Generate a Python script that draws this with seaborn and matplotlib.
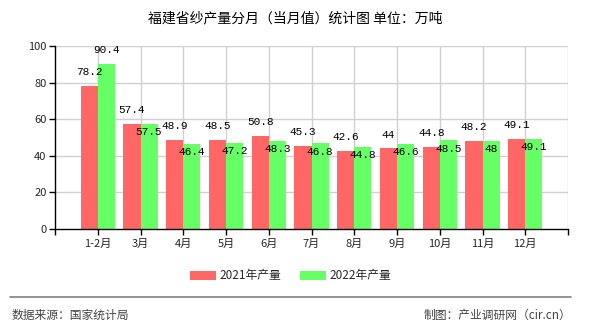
import matplotlib
matplotlib.use("Agg")
import matplotlib.pyplot as plt
import seaborn as sns
import pandas as pd
from matplotlib.patches import Patch

months = ["1-2月", "3月", "4月", "5月", "6月", "7月", "8月", "9月", "10月", "11月", "12月"]
v2021 = [78.2, 57.4, 48.9, 48.5, 50.8, 45.3, 42.6, 44, 44.8, 48.2, 49.1]
v2022 = [90.4, 57.5, 46.4, 47.2, 48.3, 46.8, 44.8, 46.6, 48.5, 48, 49.1]
series = ["2021年产量", "2022年产量"]
colors = ["#FF6666", "#66FF66"]
title = "福建省纱产量分月（当月值）统计图 单位：万吨"
source = "数据来源：国家统计局"
credit = "制图：产业调研网（cir.cn）"

sns.set_style("white")
plt.rcParams["font.family"] = ["Noto Sans CJK SC", "DejaVu Sans"]

df = pd.DataFrame({
    "month": months * 2,
    "value": v2021 + v2022,
    "series": [series[0]] * len(months) + [series[1]] * len(months),
})

fig = plt.figure(figsize=(5.9, 3.3), dpi=100)
ax = fig.add_axes([55 / 590, 1 - 229 / 330, (568 - 55) / 590, (229 - 46) / 330])

sns.barplot(data=df, x="month", y="value", hue="series", palette=colors,
            order=months, hue_order=series, width=0.8, saturation=1,
            linewidth=0, edgecolor="none",
            ax=ax, legend=False, zorder=2)

ax.set_xlim(-1, 11)
ax.set_ylim(0, 100)
ax.set_yticks(range(0, 101, 20))
ax.set_xticks(range(len(months)))
ax.set_xticklabels(months, fontsize=8)
ax.set_xticks([-1, 11], minor=True)
ax.tick_params(axis="y", labelsize=8, length=4, width=1, color="black", direction="out", left=True, pad=2)
ax.tick_params(axis="x", which="both", length=4, width=1, color="black", direction="out", bottom=True, pad=3)
ax.set_xlabel("")
ax.set_ylabel("")

# grid
for y in range(20, 101, 20):
    ax.axhline(y, color="#d0d0d0", lw=1, zorder=0)
for x in range(0, 12):
    ax.axvline(x, color="#d0d0d0", lw=1, zorder=0)

for s in ["top", "right"]:
    ax.spines[s].set_visible(False)
ax.spines["left"].set_color("black")
ax.spines["bottom"].set_color("black")
ax.spines["left"].set_linewidth(1)
ax.spines["bottom"].set_linewidth(1)

# data labels
lblfont = dict(family=["Liberation Mono", "DejaVu Sans Mono"], fontsize=8, color="black")
for i, (a, b) in enumerate(zip(v2021, v2022)):
    ax.annotate(f"{a:g}", (i - 0.2, a), xytext=(0, 10), textcoords="offset points",
                ha="center", va="center", zorder=5, **lblfont)
    if i == 0:
        off = 10
    else:
        off = -6
    ax.annotate(f"{b:g}", (i + 0.2, b), xytext=(0, off), textcoords="offset points",
                ha="center", va="center", zorder=5, **lblfont)

fig.text(0.5, 1 - 18 / 330, title, ha="center", va="center", fontsize=10, color="black")

handles = [Patch(facecolor=c, edgecolor="none") for c in colors]
fig.legend(handles, series, loc="center", bbox_to_anchor=(291 / 590, 1 - 276 / 330), ncol=2,
           frameon=False, fontsize=8.5, handlelength=2.2, handleheight=0.85,
           handletextpad=0.3, columnspacing=1.6)

fig.add_artist(plt.Line2D([10 / 590, 571 / 590], [1 - 297 / 330] * 2, color="#808080", lw=1.2))
fig.text(12 / 590, 1 - 315 / 330, source, ha="left", va="center", fontsize=8.5, color="#444444")
fig.text(571 / 590, 1 - 315 / 330, credit, ha="right", va="center", fontsize=8.5, color="#444444")

fig.savefig("out.png", dpi=100)
